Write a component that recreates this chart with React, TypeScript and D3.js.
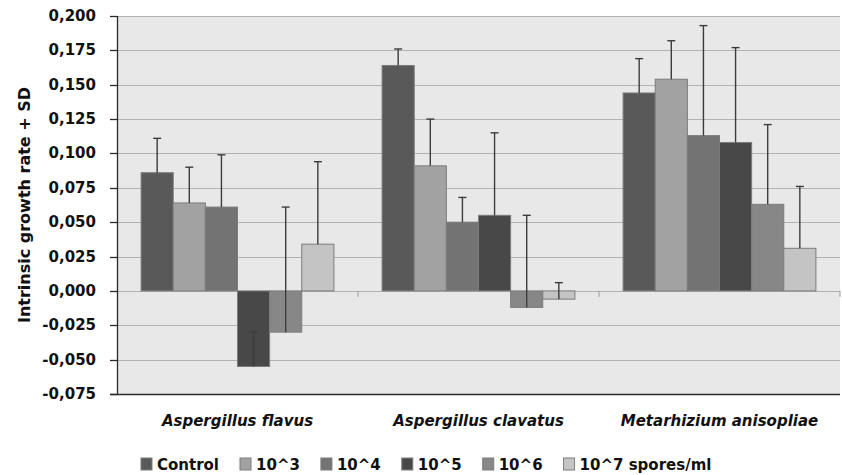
import React, { useRef, useEffect } from "react";
import * as d3 from "d3";

// categories along the x axis
const categories = ["Aspergillus flavus", "Aspergillus clavatus", "Metarhizium anisopliae"];

// one series per spore concentration
const seriesNames = ["Control", "10^3", "10^4", "10^5", "10^6", "10^7 spores/ml"];
const seriesColors = ["#595959", "#a2a2a2", "#737373", "#484848", "#878787", "#c4c4c4"];

// mean intrinsic growth rate per category
const controlValues = [0.086, 0.164, 0.144];
const e3Values = [0.064, 0.091, 0.154];
const e4Values = [0.061, 0.05, 0.113];
const e5Values = [-0.055, 0.055, 0.108];
const e6Values = [-0.03, -0.012, 0.063];
const e7Values = [0.034, -0.006, 0.031];

// standard deviations (plus direction only)
const controlSD = [0.025, 0.012, 0.025];
const e3SD = [0.026, 0.034, 0.028];
const e4SD = [0.038, 0.018, 0.08];
const e5SD = [0.025, 0.06, 0.069];
const e6SD = [0.091, 0.067, 0.058];
const e7SD = [0.06, 0.012, 0.045];

const yTicks = [-0.075, -0.05, -0.025, 0, 0.025, 0.05, 0.075, 0.1, 0.125, 0.15, 0.175, 0.2];

const allValues = [controlValues, e3Values, e4Values, e5Values, e6Values, e7Values];
const allSD = [controlSD, e3SD, e4SD, e5SD, e6SD, e7SD];

const WIDTH = 842;
const HEIGHT = 475;
const FONT = "'DejaVu Sans', sans-serif";

function App() {
  const svgRef = useRef<SVGSVGElement>(null);

  useEffect(() => {
    const svg = d3.select(svgRef.current);
    svg.selectAll("*").remove();

    const left = 117;
    const right = 840;
    const top = 16;
    const bottom = 394;

    const x0 = d3.scaleBand().domain(categories).range([left, right]);
    const x1 = d3
      .scaleBand()
      .domain(seriesNames)
      .range([0, x0.bandwidth()])
      .paddingInner(0)
      .paddingOuter(0.75);
    const y = d3.scaleLinear().domain([-0.075, 0.2]).range([bottom, top]);

    const fmt = (v: number) => d3.format(".3f")(v).replace(".", ",").replace("−", "-");

    // plot background
    svg
      .append("rect")
      .attr("x", left)
      .attr("y", top)
      .attr("width", right - left)
      .attr("height", bottom - top)
      .attr("fill", "#e8e8e8");

    // gridlines
    svg
      .selectAll(".grid")
      .data(yTicks.filter((t) => t !== -0.075))
      .join("line")
      .attr("class", "grid")
      .attr("x1", left)
      .attr("x2", right)
      .attr("y1", (d) => Math.round(y(d)) + 0.5)
      .attr("y2", (d) => Math.round(y(d)) + 0.5)
      .attr("stroke", "#b2b2b2")
      .attr("stroke-width", 1.2);

    // category ticks on the zero line
    svg
      .selectAll(".cattick")
      .data(categories.slice(1).concat(["end"]))
      .join("line")
      .attr("class", "cattick")
      .attr("x1", (d, i) => x0(categories[i])! + x0.bandwidth())
      .attr("x2", (d, i) => x0(categories[i])! + x0.bandwidth())
      .attr("y1", y(0))
      .attr("y2", y(0) + 6)
      .attr("stroke", "#9a9a9a");

    // bars
    const groups = svg
      .selectAll(".series")
      .data(seriesNames)
      .join("g")
      .attr("class", "series");

    groups
      .selectAll("rect")
      .data((s, si) => categories.map((c, ci) => ({ c, s, si, v: allValues[si][ci], sd: allSD[si][ci] })))
      .join("rect")
      .attr("x", (d) => x0(d.c)! + x1(d.s)!)
      .attr("width", x1.bandwidth())
      .attr("y", (d) => y(Math.max(0, d.v)))
      .attr("height", (d) => Math.abs(y(d.v) - y(0)))
      .attr("fill", (d) => seriesColors[d.si])
      .attr("stroke", "#7c7c7c")
      .attr("stroke-width", 1);

    // error bars
    const errs = groups
      .selectAll(".err")
      .data((s, si) => categories.map((c, ci) => ({ c, s, si, v: allValues[si][ci], sd: allSD[si][ci] })))
      .join("g")
      .attr("class", "err")
      .attr("stroke", "#3c3c3c")
      .attr("stroke-width", 1.4);

    errs
      .append("line")
      .attr("x1", (d) => x0(d.c)! + x1(d.s)! + x1.bandwidth() / 2)
      .attr("x2", (d) => x0(d.c)! + x1(d.s)! + x1.bandwidth() / 2)
      .attr("y1", (d) => y(d.v))
      .attr("y2", (d) => y(d.v + d.sd));
    errs
      .append("line")
      .attr("x1", (d) => x0(d.c)! + x1(d.s)! + x1.bandwidth() / 2 - 4)
      .attr("x2", (d) => x0(d.c)! + x1(d.s)! + x1.bandwidth() / 2 + 4)
      .attr("y1", (d) => y(d.v + d.sd))
      .attr("y2", (d) => y(d.v + d.sd));

    // left axis
    svg
      .append("line")
      .attr("x1", left + 0.5)
      .attr("x2", left + 0.5)
      .attr("y1", top)
      .attr("y2", bottom)
      .attr("stroke", "#2a2a2a")
      .attr("stroke-width", 1.3);
    svg
      .selectAll(".ytick")
      .data(yTicks)
      .join("line")
      .attr("class", "ytick")
      .attr("x1", left - 7)
      .attr("x2", left)
      .attr("y1", (d) => Math.round(y(d)) + 0.5)
      .attr("y2", (d) => Math.round(y(d)) + 0.5)
      .attr("stroke", "#2a2a2a")
      .attr("stroke-width", 1.3);
    svg
      .append("line")
      .attr("x1", left - 7)
      .attr("x2", right)
      .attr("y1", bottom + 0.5)
      .attr("y2", bottom + 0.5)
      .attr("stroke", "#2a2a2a")
      .attr("stroke-width", 1.3);

    svg
      .selectAll(".ylabel")
      .data(yTicks)
      .join("text")
      .attr("class", "ylabel")
      .attr("x", 96)
      .attr("y", (d) => y(d) + 5)
      .attr("text-anchor", "end")
      .attr("font-family", FONT)
      .attr("font-weight", "bold")
      .attr("font-size", 15)
      .attr("fill", "#111")
      .text((d) => fmt(d));

    // y axis title
    svg
      .append("text")
      .attr("transform", `translate(30,${(top + bottom) / 2}) rotate(-90)`)
      .attr("text-anchor", "middle")
      .attr("font-family", FONT)
      .attr("font-weight", "bold")
      .attr("font-size", 16)
      .attr("fill", "#111")
      .text("Intrinsic growth rate + SD");

    // category labels
    svg
      .selectAll(".catlabel")
      .data(categories)
      .join("text")
      .attr("class", "catlabel")
      .attr("x", (d) => x0(d)! + x0.bandwidth() / 2)
      .attr("y", 426)
      .attr("text-anchor", "middle")
      .attr("font-family", FONT)
      .attr("font-weight", "bold")
      .attr("font-style", "italic")
      .attr("font-size", 15)
      .attr("fill", "#111")
      .text((d) => d);

    // legend
    const legend = svg.append("g");
    let lx = 141;
    seriesNames.forEach((name, i) => {
      legend
        .append("rect")
        .attr("x", lx)
        .attr("y", 458)
        .attr("width", 11)
        .attr("height", 12)
        .attr("fill", seriesColors[i])
        .attr("stroke", "#7c7c7c");
      const t = legend
        .append("text")
        .attr("x", lx + 16)
        .attr("y", 470)
        .attr("font-family", FONT)
        .attr("font-weight", "bold")
        .attr("font-size", 15)
        .attr("fill", "#111")
        .text(name);
      const w = (t.node() as SVGTextElement).getComputedTextLength();
      lx += 16 + w + 21;
    });
  }, []);

  return (
    <svg
      ref={svgRef}
      width={WIDTH}
      height={HEIGHT}
      style={{ position: "absolute", left: 0, top: 0, background: "#fff" }}
    />
  );
}

export default App;
